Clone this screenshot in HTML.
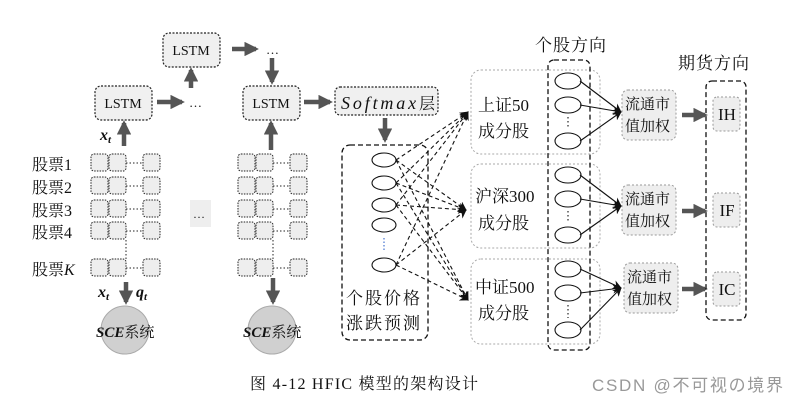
<!DOCTYPE html>
<html><head><meta charset="utf-8"><style>
body{margin:0;background:#fff}
svg{display:block}
text{font-family:"Liberation Serif","Noto Serif CJK SC",serif;fill:#111}
</style></head><body>
<svg id="s" width="797" height="402" viewBox="0 0 797 402" xmlns="http://www.w3.org/2000/svg">
<defs>
<marker id="ga" viewBox="0 0 10 10" refX="8" refY="5" markerWidth="3.2" markerHeight="3.2" orient="auto"><path d="M0,0L10,5L0,10z" fill="#555"/></marker>
<marker id="ba" viewBox="0 0 10 10" refX="9" refY="5" markerWidth="9" markerHeight="9" markerUnits="userSpaceOnUse" orient="auto"><path d="M0,0L10,5L0,10L3,5z" fill="#111"/></marker>
</defs>
<g stroke="#222" stroke-dasharray="2,1.5" stroke-width="1.2" fill="#f0f0f0">
<rect x="163" y="33" width="57" height="34" rx="6"/>
<rect x="95" y="86" width="57" height="34" rx="6"/>
<rect x="243" y="86" width="57" height="34" rx="6"/>
<rect x="335" y="87" width="103" height="28" rx="5"/>
</g>
<g font-size="14" text-anchor="middle"><text x="191" y="55">LSTM</text><text x="123" y="108">LSTM</text><text x="271" y="108">LSTM</text></g>
<text x="341" y="109" font-size="18" font-style="italic" textLength="94">Softmax<tspan font-style="normal" font-size="16">层</tspan></text>
<g stroke="#555" stroke-width="4.5" fill="none" marker-end="url(#ga)">
<line x1="157" y1="102" x2="182" y2="102"/>
<line x1="191" y1="88" x2="191" y2="70"/>
<line x1="232" y1="49" x2="256" y2="49"/>
<line x1="272" y1="58" x2="272" y2="82"/>
<line x1="304" y1="102" x2="330" y2="102"/>
<line x1="124" y1="146" x2="124" y2="123"/>
<line x1="271" y1="150" x2="271" y2="123"/>
<line x1="385" y1="118" x2="385" y2="140"/>
<line x1="126" y1="282" x2="126" y2="302"/>
<line x1="273" y1="278" x2="273" y2="302"/>
<line x1="682" y1="115" x2="705" y2="115"/>
<line x1="682" y1="211" x2="705" y2="211"/>
<line x1="682" y1="289" x2="705" y2="289"/>
</g>
<g font-size="13"><text x="189" y="107">…</text><text x="266" y="54">…</text></g>
<rect x="190" y="200" width="21" height="27" fill="#eee"/><text x="193" y="218" font-size="12">…</text>
<g id="grids"></g>
<g font-size="16"><text x="32" y="170">股票1</text><text x="32" y="193">股票2</text><text x="32" y="216">股票3</text><text x="32" y="238">股票4</text><text x="32" y="275">股票<tspan font-style="italic">K</tspan></text></g>
<g font-size="16" font-weight="bold" font-style="italic"><text x="100" y="140">x<tspan font-size="11" dy="3">t</tspan></text><text x="98" y="297">x<tspan font-size="11" dy="3">t</tspan></text><text x="136" y="297">q<tspan font-size="11" dy="3">t</tspan></text></g>
<circle cx="125" cy="330" r="24" fill="#d0d0d0" stroke="#aaa"/>
<circle cx="272" cy="330" r="24" fill="#d0d0d0" stroke="#aaa"/>
<g font-size="15"><text x="96" y="337"><tspan font-weight="bold" font-style="italic">SCE</tspan>系统</text><text x="243" y="337"><tspan font-weight="bold" font-style="italic">SCE</tspan>系统</text></g>
<rect x="342" y="145" width="86" height="195" rx="8" fill="none" stroke="#111" stroke-dasharray="5,3" stroke-width="1.3"/>
<g stroke="#aaa" stroke-dasharray="2,2" fill="none"><rect x="471" y="70" width="129" height="84" rx="10"/><rect x="471" y="164" width="129" height="84" rx="10"/><rect x="471" y="259" width="129" height="85" rx="10"/></g>
<rect x="548" y="60" width="42" height="290" rx="6" fill="none" stroke="#111" stroke-dasharray="5,3" stroke-width="1.3"/>
<rect x="706" y="81" width="40" height="239" rx="6" fill="none" stroke="#111" stroke-dasharray="5,3" stroke-width="1.3"/>
<g stroke="#999" stroke-dasharray="2,2" fill="#eee"><rect x="622" y="90" width="54" height="50" rx="6"/><rect x="622" y="185" width="54" height="50" rx="6"/><rect x="624" y="263" width="54" height="50" rx="6"/>
<rect x="713" y="97" width="27" height="34" rx="4"/><rect x="713" y="193" width="27" height="34" rx="4"/><rect x="713" y="272" width="27" height="34" rx="4"/></g>
<g id="lines" stroke="#111" stroke-width="1.1" fill="none"></g>
<g font-size="17"><text x="478" y="111">上证50</text><text x="478" y="137">成分股</text><text x="475" y="202">沪深300</text><text x="478" y="229">成分股</text><text x="475" y="293">中证500</text><text x="478" y="319">成分股</text>
<text x="346" y="304" letter-spacing="2">个股价格</text><text x="346" y="329" letter-spacing="2">涨跌预测</text><text x="535" y="51" letter-spacing="1">个股方向</text><text x="678" y="69" letter-spacing="1">期货方向</text></g>
<g font-size="15"><text x="625" y="109">流通市</text><text x="625" y="131">值加权</text><text x="625" y="204">流通市</text><text x="625" y="226">值加权</text><text x="627" y="282">流通市</text><text x="627" y="304">值加权</text></g>
<g font-size="17" text-anchor="middle"><text x="727" y="120">IH</text><text x="727" y="216">IF</text><text x="727" y="295">IC</text></g>
<text x="250" y="389" font-size="16" textLength="228">图 4-12 HFIC 模型的架构设计</text>
<text x="592" y="391" font-size="17" textLength="191" style="font-family:'Liberation Sans','Noto Sans CJK SC',sans-serif;fill:#999">CSDN @不可视の境界</text>
</svg>
<script>
var ns="http://www.w3.org/2000/svg",g=document.getElementById('grids'),L=document.getElementById('lines');
function el(p,t,a){var e=document.createElementNS(ns,t);for(var k in a)e.setAttribute(k,a[k]);p.appendChild(e);return e;}
[0,147].forEach(function(o){
 [154,177,200,222,259].forEach(function(y){[91,109,143].forEach(function(x){el(g,'rect',{x:x+o,y:y,width:17,height:17,rx:3,fill:'#eee',stroke:'#222','stroke-dasharray':'1.5,1.2'});});
 el(g,'line',{x1:126+o,y1:y+9,x2:143+o,y2:y+9,stroke:'#222','stroke-dasharray':'1.5,2'});});
 el(g,'line',{x1:126+o,y1:240,x2:126+o,y2:259,stroke:'#222','stroke-dasharray':'1.5,2'});
});
var ey=[160,183,205,225,265];
ey.forEach(function(y){el(L,'ellipse',{cx:384,cy:y,rx:12,ry:7,fill:'#fff'});});
el(L,'line',{x1:384,y1:238,x2:384,y2:252,'stroke-dasharray':'1.5,2',stroke:'#36c'});
var tg=[[468,112],[466,210],[468,300]];
[0,1,2,4].forEach(function(i){var y=ey[i];tg.forEach(function(t){el(L,'line',{x1:396,y1:y,x2:t[0],y2:t[1],'stroke-dasharray':'4,3','marker-end':'url(#ba)'});});});
var grp=[[81,105,141,112],[175,199,235,206],[269,293,330,288]];
grp.forEach(function(a){[0,1,2].forEach(function(i){el(L,'ellipse',{cx:568,cy:a[i],rx:13,ry:8,fill:'#fff'});el(L,'line',{x1:580,y1:a[i],x2:621,y2:a[3],'marker-end':'url(#ba)'});});
 el(L,'line',{x1:568,y1:a[1]+12,x2:568,y2:a[2]-12,'stroke-dasharray':'1.5,2.5'});});
</script>
</body></html>
